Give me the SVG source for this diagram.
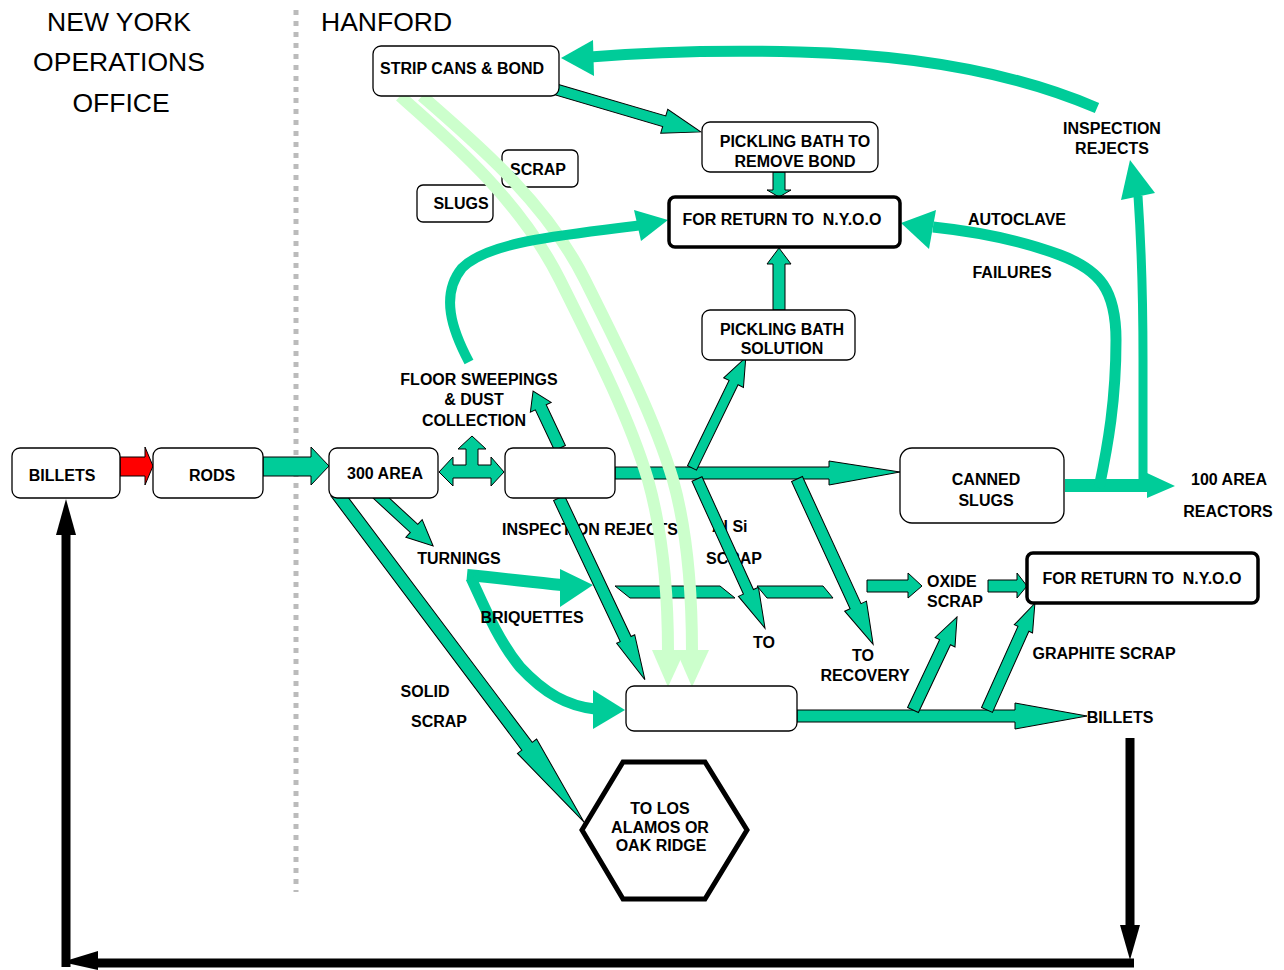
<svg xmlns="http://www.w3.org/2000/svg" width="1284" height="970" viewBox="0 0 1284 970">
<style>
text{font-family:"Liberation Sans",Arial,Helvetica,sans-serif;fill:#000}
.h{font-size:26.5px;text-anchor:middle}
.b{font-size:16px;font-weight:bold;text-anchor:middle}
.l{text-anchor:start}
.box{fill:#fff;stroke:#000;stroke-width:1.3}
.tbox{fill:#fff;stroke:#000;stroke-width:3.5}
.ba{fill:#00CC99;stroke:#000;stroke-width:1}
.bn{fill:#00CC99;stroke:none}
.cv{fill:none;stroke:#00CC99}
.lg{fill:none;stroke:#CCFFCC;stroke-width:12}
.lgh{fill:#CCFFCC}
.blk{fill:none;stroke:#000;stroke-width:9}
</style>
<rect width="1284" height="970" fill="#fff"/>
<line x1="296" y1="10" x2="296" y2="892" stroke="#BBBBBB" stroke-width="5" stroke-dasharray="5 6"/>

<g id="titles">
<text class="h" x="119" y="31">NEW YORK</text>
<text class="h" x="119" y="71">OPERATIONS</text>
<text class="h" x="121" y="112">OFFICE</text>
<text class="h l" x="321" y="31">HANFORD</text>
</g>

<g id="labels">
<g id="floor-sweepings"><text class="b" x="479" y="385">FLOOR SWEEPINGS</text><text class="b" x="474" y="405">&amp; DUST</text><text class="b" x="474" y="426">COLLECTION</text></g>
<g id="inspection-rejects-mid"><text class="b l" x="502" y="535">INSPECTION REJECTS</text></g>
<g id="alsi-scrap"><text class="b l" x="712" y="532">Al Si</text><text class="b" x="734" y="564">SCRAP</text><text class="b" x="764" y="648">TO</text></g>
<g id="to-recovery"><text class="b" x="863" y="661">TO</text><text class="b" x="865" y="681">RECOVERY</text></g>
<g id="turnings"><text class="b" x="459" y="564">TURNINGS</text></g>
<g id="solid-scrap"><text class="b" x="425" y="697">SOLID</text><text class="b" x="439" y="727">SCRAP</text></g>
<g id="oxide-scrap"><text class="b l" x="927" y="587">OXIDE</text><text class="b l" x="927" y="607">SCRAP</text></g>
<g id="graphite-scrap"><text class="b" x="1104" y="659">GRAPHITE SCRAP</text></g>
<g id="billets-out"><text class="b" x="1120" y="723">BILLETS</text></g>
<g id="reactors"><text class="b" x="1229" y="485">100 AREA</text><text class="b" x="1228" y="517">REACTORS</text></g>
<g id="autoclave"><text class="b" x="1017" y="225">AUTOCLAVE</text><text class="b" x="1012" y="278">FAILURES</text></g>
<g id="inspection-rejects-top"><text class="b" x="1112" y="134">INSPECTION</text><text class="b" x="1112" y="154">REJECTS</text></g>
</g>

<g id="scrap-box"><rect class="box" x="502" y="150" width="76" height="37" rx="6"/><text class="b" x="538" y="175">SCRAP</text></g>
<g id="slugs-box"><rect class="box" x="417" y="185" width="76" height="37" rx="6"/><text class="b" x="461" y="209">SLUGS</text></g>

<g id="connectors">
<polygon points="120,457 145,457 145,447 153,466 145,485 145,476 120,476" fill="#FF0000" stroke="#000" stroke-width="1"/>
<polygon class="ba" points="263,457 311,457 311,447 329,466 311,485 311,476 263,476"/>
<polygon class="ba" points="439,472 453,457 453,465 466,465 466,449 458,449 472,436 486,449 478,449 478,465 491,465 491,457 504,472 491,486 491,478 453,478 453,486"/>
<polygon class="ba" points="615,467 829,467 829,461 900,472 829,485 829,479 615,479"/>
<polygon class="bn" points="1065,479 1147,479 1147,473 1175,486 1147,498 1147,492 1065,492"/>
<polygon class="ba" transform="translate(551,88) rotate(16.35)" points="0,-5.5 118,-5.5 118,-12.5 156,0 118,12.5 118,5.5 0,5.5"/>
<polygon class="ba" points="773,172 785,172 785,190 791,190 779,197 767,190 773,190"/>
<polygon class="ba" points="773,310 773,264 767,264 779,248 791,264 785,264 785,310"/>
<polygon class="ba" transform="translate(692,468) rotate(-64.06)" points="0,-5 95,-5 95,-11 123,0 95,11 95,5 0,5"/>
<polygon class="ba" transform="translate(697,479) rotate(65.5)" points="0,-5.5 124,-5.5 124,-11 164,0 124,11 124,5.5 0,5.5"/>
<polygon class="ba" transform="translate(797,479) rotate(65.27)" points="0,-6 140,-6 140,-12 182,0 140,12 140,6 0,6"/>
<polygon class="ba" transform="translate(560,448) rotate(-115.3)" points="0,-6 45,-6 45,-11.5 63,0 45,11.5 45,6 0,6"/>
<polygon class="ba" transform="translate(559,498) rotate(64.7)" points="0,-6 156,-6 156,-10 201,0 156,10 156,6 0,6"/>
<polygon class="ba" transform="translate(367,485) rotate(42.7)" points="0,-5.5 64,-5.5 64,-12 90,0 64,12 64,5.5 0,5.5"/>
<polygon class="ba" transform="translate(336,492) rotate(53.08)" points="0,-6.5 318,-6.5 318,-12 413,0 318,12 318,6.5 0,6.5"/>
<polygon class="ba" points="615,586 720,586 735,598 630,598"/>
<polygon class="ba" points="757,586 823,586 833,598 767,598"/>
<polygon class="ba" points="867,580 908,580 908,573 922,586 908,598 908,592 867,592"/>
<polygon class="ba" points="988,580 1017,580 1017,573 1027,586 1017,598 1017,592 988,592"/>
<polygon class="ba" points="797,710 1015,710 1015,703 1087,716 1015,729 1015,722 797,722"/>
<polygon class="ba" transform="translate(913,710) rotate(-64.7)" points="0,-6 75,-6 75,-11 103,0 75,11 75,6 0,6"/>
<polygon class="ba" transform="translate(987,710) rotate(-65.84)" points="0,-6 89,-6 89,-10 117,0 89,10 89,6 0,6"/>
<path class="cv" stroke-width="12" d="M467,575 C500,578 530,582 562,585"/>
<polygon class="bn" points="560,569 593,585 560,607"/>
<path class="cv" stroke-width="11" d="M471,578 C484,606 498,640 520,667 C545,694 568,706 595,709"/>
<polygon class="bn" points="593,690 625,710 593,729"/>
<path class="cv" stroke-width="11" d="M1099,488 C1108,445 1116,400 1116,340 C1116,290 1100,270 1060,255 C1020,240 980,232 933,227"/>
<polygon class="bn" points="901,223 936,210 929,249"/>
<path class="cv" stroke-width="9" d="M1143,488 L1143,360 C1143,290 1141,240 1138,196"/>
<polygon class="bn" points="1130,160 1121,200 1155,193"/>
<path class="cv" stroke-width="11" d="M1097,108 C1020,75 920,55 800,52 C720,50 650,52 590,57"/>
<polygon class="bn" points="561,58 593,40 594,76"/>
<path class="lg" d="M400,96 C450,140 520,200 560,280 C600,360 630,420 648,480 C662,530 668,590 668,652"/>
<path class="lg" d="M422,96 C472,140 545,200 585,280 C625,360 655,420 673,480 C687,530 692,590 692,652"/>
<polygon class="lgh" points="652,650 685,650 668,687"/>
<polygon class="lgh" points="676,650 709,650 692,687"/>
<path class="cv" stroke-width="10" d="M469,362 C452,330 440,295 462,268 C490,240 570,235 642,225"/>
<polygon class="bn" points="668,220 634,210 641,241"/>
<path class="blk" d="M1130,738 L1130,928"/>
<polygon points="1120,925 1140,925 1130,960" fill="#000"/>
<path class="blk" d="M1134,963 L95,963"/>
<polygon points="62,962 98,951 98,970" fill="#000"/>
<path class="blk" d="M66,967 L66,532"/>
<polygon points="56,535 76,535 66,499" fill="#000"/>
</g>

<g id="briquettes"><text class="b" x="532" y="623">BRIQUETTES</text></g>

<g id="billets"><rect class="box" x="12" y="448" width="108" height="50" rx="8"/><text class="b" x="62" y="481">BILLETS</text></g>
<g id="rods"><rect class="box" x="153" y="448" width="110" height="50" rx="8"/><text class="b" x="212" y="481">RODS</text></g>
<g id="area300"><rect class="box" x="329" y="448" width="109" height="50" rx="8"/><text class="b" x="385" y="479">300 AREA</text></g>
<g id="blank-box"><rect class="box" x="505" y="448" width="110" height="50" rx="8"/></g>
<g id="canned-slugs"><rect class="box" x="900" y="448" width="164" height="75" rx="12"/><text class="b" x="986" y="485">CANNED</text><text class="b" x="986" y="506">SLUGS</text></g>
<g id="strip-cans"><rect class="box" x="373" y="46" width="186" height="50" rx="8"/><text class="b l" x="380" y="74">STRIP CANS &amp; BOND</text></g>
<g id="pickling-remove"><rect class="box" x="702" y="122" width="176" height="50" rx="8"/><text class="b" x="795" y="147">PICKLING BATH TO</text><text class="b" x="795" y="167">REMOVE BOND</text></g>
<g id="return-top"><rect class="tbox" x="669" y="197" width="231" height="50" rx="6"/><text class="b" x="782" y="225" xml:space="preserve">FOR RETURN TO  N.Y.O.O</text></g>
<g id="pickling-solution"><rect class="box" x="702" y="310" width="153" height="50" rx="8"/><text class="b" x="782" y="335">PICKLING BATH</text><text class="b" x="782" y="354">SOLUTION</text></g>
<g id="return-bottom"><rect class="tbox" x="1027" y="553" width="231" height="50" rx="6"/><text class="b" x="1142" y="584" xml:space="preserve">FOR RETURN TO  N.Y.O.O</text></g>
<g id="bottom-box"><rect class="box" x="626" y="686" width="171" height="45" rx="8"/></g>
<g id="los-alamos"><polygon points="582,830 623,762 705,762 747,830 705,899 623,899" fill="#fff" stroke="#000" stroke-width="5" stroke-linejoin="miter"/><text class="b" x="660" y="814">TO LOS</text><text class="b" x="660" y="833">ALAMOS OR</text><text class="b" x="661" y="851">OAK RIDGE</text></g>
</svg>
